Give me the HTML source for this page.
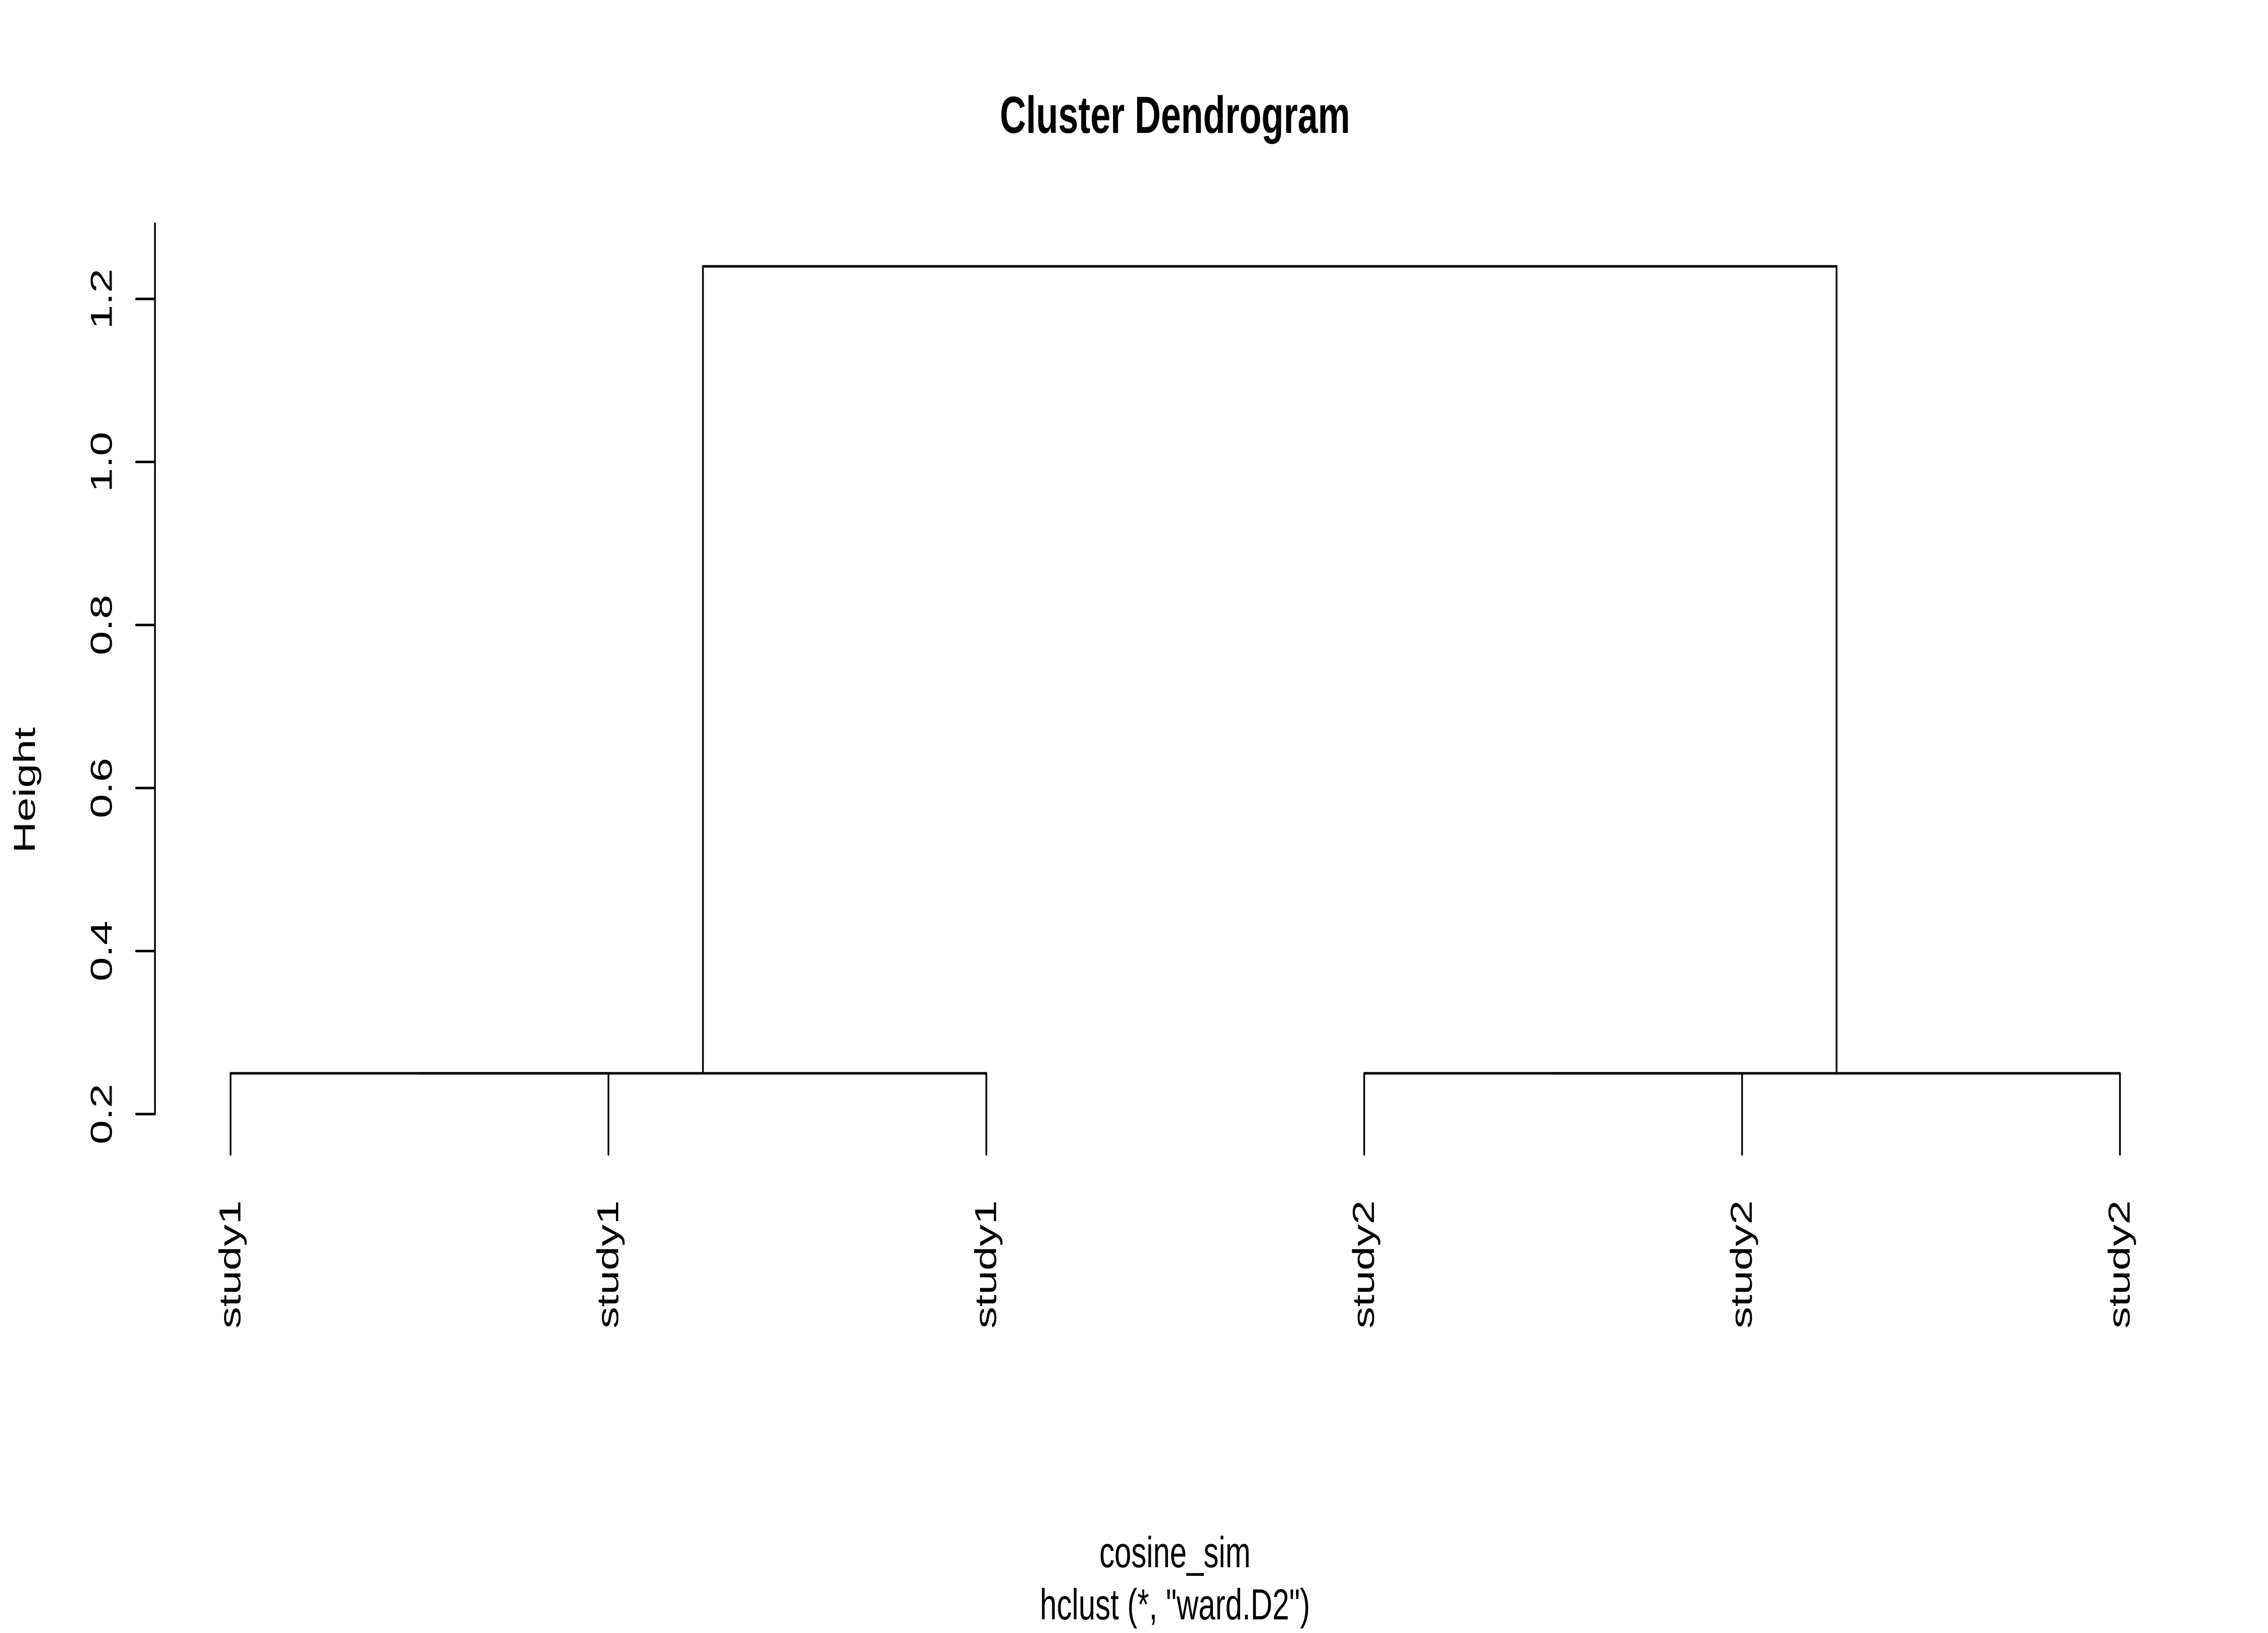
<!DOCTYPE html>
<html><head><meta charset="utf-8"><style>html,body{margin:0;padding:0;background:#fff;width:100%;height:100%;overflow:hidden}svg{display:block;width:100vw;height:100vh}</style></head>
<body>
<svg id="chart" xmlns="http://www.w3.org/2000/svg" viewBox="0 0 7200 3600" preserveAspectRatio="none" font-family="'Liberation Sans', Arial, sans-serif">
<rect width="7200" height="3600" fill="#fff"/>
<text x="3730" y="253" text-anchor="middle" dominant-baseline="central" font-size="115" font-weight="bold">Cluster Dendrogram</text>
<text x="3730" y="3422" text-anchor="middle" dominant-baseline="central" font-size="96">cosine_sim</text>
<text x="3730" y="3537" text-anchor="middle" dominant-baseline="central" font-size="96">hclust (*, "ward.D2")</text>
<text transform="translate(78,1742) rotate(-90)" text-anchor="middle" dominant-baseline="central" font-size="96">Height</text>
<g id="yaxis"></g>
<g id="tree"></g>
<g id="leaves"></g>
</svg>
<script>
const leafLabels = ["study1","study1","study1","study2","study2","study2"];
const mergeHeights = [0.25, 0.25, 0.25, 0.25, 1.24];
const yTicks = [0.2, 0.4, 0.6, 0.8, 1.0, 1.2];
const yTickLabels = ["0.2","0.4","0.6","0.8","1.0","1.2"];
// merges: negative = leaf index (1-based), positive = previous merge
const merges = [[-1,-2],[1,-3],[-4,-5],[3,-6],[2,4]];

const NS = "http://www.w3.org/2000/svg";
const X0 = 732, XSTEP = 1199.6;
const Y02 = 2456, PXPERUNIT = 1797;
const PLOT_TOP = 493;
const LEAF_BOTTOM = 2545;
function xs(i){ return X0 + i*XSTEP; }
function ys(v){ return Y02 - (v-0.2)*PXPERUNIT; }
function line(g,x1,y1,x2,y2){
  const l=document.createElementNS(NS,"line");
  l.setAttribute("x1",x1);l.setAttribute("y1",y1);l.setAttribute("x2",x2);l.setAttribute("y2",y2);
  l.setAttribute("stroke","#000");l.setAttribute("stroke-width","5.5");l.setAttribute("stroke-linecap","round");
  g.appendChild(l);return l;
}
const ya=document.getElementById("yaxis");
const axl=line(ya,492,ys(yTicks[0]),492,PLOT_TOP);


yTicks.forEach((t,i)=>{
  const tl=line(ya,432,ys(t),492,ys(t));
  
  
  const tx=document.createElementNS(NS,"text");
  tx.setAttribute("transform",`translate(322,${ys(t)}) rotate(-90)`);
  tx.setAttribute("text-anchor","middle");tx.setAttribute("dominant-baseline","central");
  tx.setAttribute("font-size","96");
  tx.textContent=yTickLabels[i];
  
  
  ya.appendChild(tx);
});
const tree=document.getElementById("tree");
const pos=[];
function node(r){
  if(r<0) return {x:xs(-r-1), y:LEAF_BOTTOM};
  return pos[r-1];
}
merges.forEach((m,k)=>{
  const a=node(m[0]), b=node(m[1]);
  const y=ys(mergeHeights[k]);
  const g=document.createElementNS(NS,"g");
  
  
  line(g,a.x,a.y,a.x,y);line(g,a.x,y,b.x,y);line(g,b.x,y,b.x,b.y);
  tree.appendChild(g);
  pos.push({x:(a.x+b.x)/2,y:y});
});
const lv=document.getElementById("leaves");
leafLabels.forEach((s,i)=>{
  const tx=document.createElementNS(NS,"text");
  tx.setAttribute("transform",`translate(${xs(i)-2},2646) rotate(-90)`);
  tx.setAttribute("text-anchor","end");tx.setAttribute("dominant-baseline","central");
  tx.setAttribute("font-size","96");
  tx.textContent=s;
  
  
  lv.appendChild(tx);
});
</script>
</body></html>
